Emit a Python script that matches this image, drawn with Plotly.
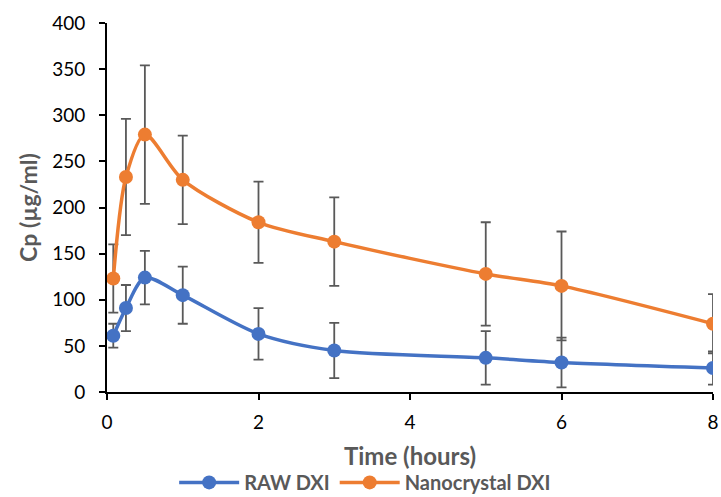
import plotly.graph_objects as go

time_h = [0.083, 0.25, 0.5, 1, 2, 3, 5, 6, 8]
raw_dxi = [61, 91, 124, 105, 63, 45, 37, 32, 26]
raw_err = [13, 25, 29, 31, 28, 30, 29, 27, 18]
nano_dxi = [123, 233, 279, 230, 184, 163, 128, 115, 74]
nano_err = [37, 63, 75, 48, 44, 48, 56, 59, 32]

x_ticks = [0, 2, 4, 6, 8]
y_ticks = [0, 50, 100, 150, 200, 250, 300, 350, 400]

FONT = "Lato, Open Sans, sans-serif"
GRAY = "#595959"

fig = go.Figure()
for name, y, err, color in [("<b>RAW DXI</b>", raw_dxi, raw_err, "#4472C4"),
                            ("<b>Nanocrystal DXI</b>", nano_dxi, nano_err, "#ED7D31")]:
    fig.add_trace(go.Scatter(
        x=time_h, y=y, name=name, mode="lines+markers",
        line=dict(color=color, width=3.5, shape="spline", smoothing=0.8),
        marker=dict(color=color, size=14),
        error_y=dict(type="data", array=err, visible=True, color=GRAY,
                     thickness=1.8, width=5),
    ))

fig.update_layout(
    width=721, height=497,
    margin=dict(l=107, r=8, t=23, b=105, autoexpand=False),
    plot_bgcolor="white", paper_bgcolor="white",
    font=dict(family=FONT, size=19, color="black"),
    showlegend=True,
    legend=dict(orientation="h", x=0.426, xanchor="center", y=-0.245, yanchor="middle",
                font=dict(size=20, color=GRAY, family=FONT), itemwidth=60,
                traceorder="normal"),
    xaxis=dict(range=[0, 8], tickvals=x_ticks, showgrid=False, zeroline=False,
               showline=True, linecolor="black", linewidth=2,
               ticks="outside", ticklen=6, tickwidth=2, tickcolor="black",
               ticklabelstandoff=6,
               title=dict(text="<b>Time (hours)</b>", font=dict(size=24, color=GRAY), standoff=16)),
    yaxis=dict(range=[0, 400], tickvals=y_ticks, showgrid=False, zeroline=False,
               showline=True, linecolor="black", linewidth=2,
               ticks="outside", ticklen=6, tickwidth=2, tickcolor="black",
               ticklabelstandoff=10,
               title=dict(text="<b>Cp (µg/ml)</b>", font=dict(size=23, color=GRAY), standoff=8)),
)

fig.write_html("out.html")
